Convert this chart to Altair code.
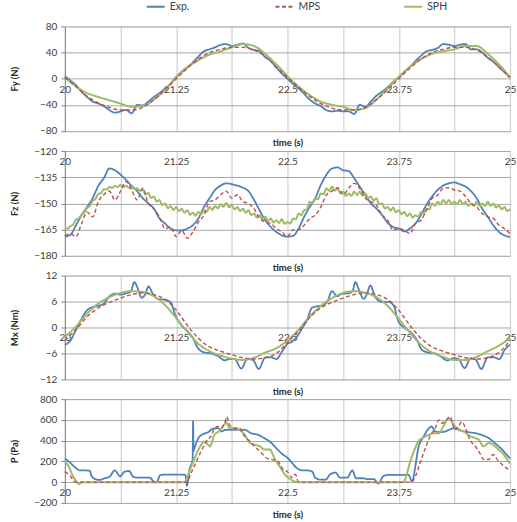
import altair as alt
import pandas as pd

FONT = "Lato"
SERIES = ["Exp.", "MPS", "SPH"]
COLORS = ["#4F81BD", "#C0504D", "#9FBB68"]

T_FINE = [20.0, 20.0625, 20.125, 20.1875, 20.25, 20.3125, 20.375, 20.4375, 20.5, 20.5625,
          20.625, 20.6875, 20.75, 20.8125, 20.875, 20.9375, 21.0, 21.0625, 21.125, 21.1875,
          21.25, 21.3125, 21.375, 21.4375, 21.5, 21.5625, 21.625, 21.6875, 21.75, 21.8125,
          21.875, 21.9375, 22.0, 22.0625, 22.125, 22.1875, 22.25, 22.3125, 22.375, 22.4375,
          22.5, 22.5625, 22.625, 22.6875, 22.75, 22.8125, 22.875, 22.9375, 23.0, 23.0625,
          23.125, 23.1875, 23.25, 23.3125, 23.375, 23.4375, 23.5, 23.5625, 23.625, 23.6875,
          23.75, 23.8125, 23.875, 23.9375, 24.0, 24.0625, 24.125, 24.1875, 24.25, 24.3125,
          24.375, 24.4375, 24.5, 24.5625, 24.625, 24.6875, 24.75, 24.8125, 24.875, 24.9375, 25.0]
T_COARSE = [20.0, 20.125, 20.25, 20.375, 20.5, 20.625, 20.75, 20.875, 21.0, 21.125,
            21.25, 21.375, 21.5, 21.625, 21.75, 21.875, 22.0, 22.125, 22.25, 22.375,
            22.5, 22.625, 22.75, 22.875, 23.0, 23.125, 23.25, 23.375, 23.5, 23.625,
            23.75, 23.875, 24.0, 24.125, 24.25, 24.375, 24.5, 24.625, 24.75, 24.875, 25.0]
# half-step sampling times (every 1/32 s) for the jittery SPH force record
T_HALF = sorted(T_FINE + [(a + b) / 2 for a, b in zip(T_FINE, T_FINE[1:])])

# ---- Fy (N)
FY_EXP = [4, -3, -10, -20, -28, -35, -38, -42, -48, -52, -50, -48, -53, -40, -41, -35, -28, -22, -15, -8,
          2, 10, 17, 25, 34, 42, 45, 48, 52, 53, 50, 52, 54, 47, 44, 42, 33, 27, 17, 8,
          0, -8, -15, -23, -32, -38, -42, -48, -50, -49, -50, -50, -54, -40, -43, -35, -26, -20, -13, -5,
          2, 10, 18, 27, 35, 42, 44, 47, 53, 52, 50, 52, 53, 45, 45, 40, 32, 26, 18, 10, 2]
FY_MPS = [2, -12, -27, -37, -44, -48, -48, -44, -32, -17, 0, 16, 30, 40, 45, 48, 48, 44, 34, 18,
          2, -13, -27, -38, -45, -48, -48, -44, -32, -17, 0, 16, 30, 40, 45, 48, 48, 44, 33, 18, 2]
FY_SPH = [2, -12, -22, -28, -33, -38, -43, -42, -32, -17, 3, 18, 28, 37, 42, 48, 53, 50, 38, 22,
          4, -12, -25, -35, -40, -43, -48, -45, -32, -15, 3, 18, 30, 38, 42, 45, 50, 50, 38, 22, 2]

# ---- Fz (N)
FZ_EXP = [-169, -168, -162.5, -156.7, -152, -147, -140, -135.6, -130, -131, -133.5, -136.5, -140, -143,
          -147, -150, -153, -158.6, -161.5, -164.4, -165.4, -165.4, -164.4, -162.5, -158.6, -152, -147,
          -142.3, -139.8, -138.5, -139, -139.8, -141, -143, -148, -154, -159.6, -163.5, -166.3, -168.3,
          -169, -168.6, -164.4, -157.7, -152, -147, -139.4, -133.6, -130, -129.4, -131, -131.5, -135.6,
          -140.4, -145.2, -150, -153, -156.7, -161, -163.5, -164.4, -166, -164.4, -161.5, -156.7, -150.7,
          -146, -142.3, -139.8, -138.5, -138, -139, -140.4, -143, -147, -153, -157.7, -162.5, -166.3,
          -168.3, -169.2]
FZ_MPS = [-168.6, -167.3, -169, -161.5, -155, -157.7, -149, -145, -143, -148, -143, -137.5, -142.3, -148,
          -141.3, -150, -153, -157.7, -164.4, -163.5, -169, -165.4, -170, -166.3, -160.6, -156.7, -149,
          -148, -145, -143, -147, -145, -149, -150, -153, -158.6, -160.6, -161.5, -164.4, -166.3,
          -169, -165, -165, -162.5, -158.6, -156.7, -152, -145.2, -143, -141, -145, -141.3, -138.5,
          -141.3, -147, -149, -151, -156.7, -159.6, -165.4, -164.4, -165.4, -167.3, -161.5, -159.6, -153.8,
          -147, -145.2, -141.3, -141, -142.3, -143, -146, -150, -152, -155.8, -157.7, -158.6, -162.5,
          -164.4, -167.3]
FZ_SPH = [-164.0, -164.4, -163.1, -162.0, -159.2, -158.6, -156.3, -155.2, -152.6, -151.4, -148.6, -147.4,
          -144.6, -144.1, -141.9, -142.1, -140.6, -141.1, -140.0, -140.5, -139.4, -140.5, -140.0, -141.1,
          -140.6, -141.8, -141.3, -142.8,
          -142.1, -144.9, -144.1, -146.9, -146.1, -148.9, -148.1, -150.9, -150.1, -152.7, -151.6, -153.7,
          -152.1, -154.4, -153.1, -155.3, -153.9, -156.5, -155.4, -157.0, -154.9, -156.2, -153.9, -154.8,
          -152.1, -153.7, -151.6, -152.8, -150.4, -151.9, -149.7, -152.2, -151.1, -153.4, -152.1, -154.4,
          -153.1, -155.3, -153.9, -156.7, -155.8, -158.1, -156.8, -159.1, -157.7, -160.0, -158.7, -161.0,
          -159.7, -161.2, -159.1, -161.7, -160.6, -161.5,
          -158.7, -159.1, -155.8, -156.7, -153.9, -153.3, -149.1, -149.9, -147.1, -147.5, -144.3, -144.7,
          -141.4, -142.7, -140.4, -142.7, -141.4, -144.2, -143.3, -145.6, -144.3, -145.6, -143.3, -145.1,
          -143.3, -145.6, -144.3, -147.0, -146.1, -148.4, -147.1, -150.4, -150.1, -152.9, -152.1, -154.1,
          -152.4, -155.0, -153.9, -156.2, -154.9, -157.2, -155.8, -158.1, -156.8, -157.7, -154.9, -155.8,
          -153.1, -153.4, -150.1, -151.4, -149.1, -150.4, -148.1, -149.9, -148.1, -150.4, -149.1, -150.4,
          -148.1, -150.4, -149.1, -151.4, -150.1, -151.4, -149.1, -151.4, -150.1, -151.4, -149.1, -151.4,
          -150.1, -152.4, -151.1, -153.4, -152.1, -154.4, -153.1]

# ---- Mx (Nm)
MX_EXP_T = [20.0, 20.064, 20.123, 20.187, 20.25, 20.31, 20.374, 20.438, 20.5, 20.56, 20.625, 20.688,
            20.74, 20.78, 20.823, 20.86, 20.898, 20.94, 20.987, 21.047, 21.122, 21.19, 21.234, 21.309,
            21.384, 21.44, 21.496, 21.571, 21.645, 21.72, 21.795, 21.851, 21.907, 21.982, 22.049, 22.113,
            22.177, 22.251, 22.319, 22.375, 22.438, 22.5, 22.552, 22.608, 22.665, 22.72, 22.777, 22.833,
            22.889, 22.945, 23.001, 23.057, 23.113, 23.188, 23.233, 23.263, 23.3, 23.356, 23.394, 23.431,
            23.487, 23.562, 23.637, 23.693, 23.749, 23.824, 23.899, 23.955, 24.011, 24.086, 24.16, 24.235,
            24.291, 24.366, 24.422, 24.49, 24.557, 24.617, 24.677, 24.751, 24.819, 24.879, 24.939, 25.0]
MX_EXP = [-4, -3, -0.6, 2, 4, 4.7, 5, 5.5, 7.2, 7.8, 7.6, 7.9,
          8.3, 10.5, 8.8, 6.9, 7.5, 9.5, 7.8, 6.6, 6.4, 5.8, 3.2, 0.5,
          -1, -2.5, -4.8, -5.8, -6, -6.6, -7.6, -7.3, -7.3, -9.5, -7.3, -7.5,
          -9.6, -6.9, -6.9, -7.3, -5.6, -3.8, -3.3, -2.1, -0.2, 1.7, 4.6, 4.9,
          5.1, 5.9, 8.4, 7.2, 7.8, 7.9, 8.5, 10.5, 8.9, 6.6, 7.8, 9.7,
          7, 5.9, 5.9, 5.1, 1.3, -0.2, -1.4, -2.9, -5.2, -5.8, -6, -6.9,
          -7.6, -7.1, -7.3, -9.4, -7.1, -7.5, -9.6, -6.9, -6.9, -7.3, -5.2, -4]
MX_MPS = [-3, -0.5, 2.5, 4.5, 5.8, 6.8, 7.6, 8.0, 7.6, 6.5, 4.0, 0.5, -2.5, -4.5, -5.5, -6.3, -7.0, -7.3,
          -7.0, -6.0, -3.5, -0.8, 2.3, 4.5, 5.8, 6.8, 7.6, 8.0, 7.6, 6.5, 4.0, 0.5, -2.5, -4.5, -5.5,
          -6.3, -7.0, -7.3, -7.0, -5.8, -3.0]
MX_SPH = [-2.2, 0.2, 3.2, 5.5, 7.0, 8.0, 8.4, 8.2, 7.2, 5.2, 2.2, -1.0, -3.8, -5.5, -6.5, -7.2, -7.5, -7.0,
          -5.8, -4.8, -3.0, -0.5, 2.5, 5.0, 6.8, 8.0, 8.4, 8.0, 7.0, 5.0, 2.0, -1.2, -4.0, -5.8, -6.8,
          -7.5, -7.5, -6.8, -5.5, -4.2, -2.5]

# ---- P (Pa)
P_EXP_T = [20.0, 20.06, 20.11, 20.17, 20.22, 20.28, 20.3, 20.34, 20.39, 20.45, 20.5, 20.56, 20.62, 20.67,
           20.72, 20.77, 20.82, 20.9, 20.95, 21.0, 21.03, 21.07, 21.12, 21.2, 21.27, 21.35, 21.36, 21.37,
           21.4, 21.435, 21.44, 21.445, 21.46, 21.5, 21.55, 21.61, 21.66, 21.72, 21.76, 21.8, 21.87,
           21.95, 22.02, 22.09, 22.17, 22.24, 22.32, 22.39, 22.45,
           22.5, 22.55, 22.61, 22.66, 22.72, 22.78, 22.81, 22.87, 22.93, 22.98, 23.04, 23.09, 23.17,
           23.23, 23.27, 23.34, 23.41, 23.47, 23.52, 23.58, 23.64, 23.71, 23.79, 23.86, 23.9, 23.94,
           23.97, 24.03, 24.09, 24.12, 24.16, 24.22, 24.27, 24.33, 24.38, 24.46, 24.53, 24.61, 24.68,
           24.76, 24.83, 24.91, 24.96, 25.0]
P_EXP = [228, 187, 146, 114, 114, 108, 60, 29, 22, 38, 51, 114, 57, 101,
         108, 51, 44, 44, 44, 6, -3, 67, 73, 73, 73, 73, 40, -35,
         124, 220, 590, 300, 340, 425, 463, 482, 514, 520, 488, 504, 504,
         504, 504, 472, 456, 425, 377, 314, 266,
         235, 187, 133, 114, 114, 101, 44, 25, 25, 76, 92, 44, 44,
         114, 38, 38, 29, 29, -13, 60, 70, 70, 70, 70, 6, 171,
         330, 440, 520, 536, 488, 482, 488, 510, 520, 495, 482, 472, 456,
         425, 377, 314, 266, 228]
P_MPS_T = [20.0, 20.06, 20.11, 20.15, 21.365, 21.42, 21.48, 21.53, 21.59, 21.65, 21.68, 21.72, 21.76,
           21.8, 21.82, 21.85, 21.91, 21.96, 22.02, 22.08, 22.13, 22.17, 22.21, 22.26, 22.32, 22.39,
           22.45, 22.5, 22.55, 22.59, 22.62, 22.66, 23.88, 23.9, 23.94, 23.99, 24.05, 24.1, 24.16, 24.2,
           24.24, 24.27, 24.33, 24.35, 24.38, 24.42, 24.46, 24.5, 24.55, 24.61, 24.67, 24.7, 24.76,
           24.81, 24.87, 24.93, 24.98, 25.0]
P_MPS = [101, 60, 6, 0, 0, 92, 203, 298, 393, 456, 520, 536, 526,
         583, 631, 552, 520, 520, 440, 393, 346, 314, 282, 235, 219, 203,
         124, 101, 44, 76, 6, 0, 0, 6, 60, 187, 330, 440, 520, 600,
         568, 583, 631, 583, 504, 536, 583, 520, 409, 346, 266, 219, 219,
         266, 203, 155, 124, 108]
P_SPH_T = [20.0, 20.04, 20.09, 20.13, 20.16, 20.19, 21.33, 21.35, 21.4, 21.46, 21.51, 21.57, 21.63,
           21.68, 21.74, 21.8, 21.81, 21.85, 21.91, 21.96, 22.02, 22.08, 22.13, 22.19, 22.24, 22.3,
           22.36, 22.41, 22.47, 22.5, 22.55, 22.61, 23.79, 23.81, 23.84, 23.88, 23.92, 23.97, 24.03,
           24.09, 24.14, 24.2, 24.25, 24.31, 24.37, 24.42, 24.48, 24.53, 24.59, 24.65, 24.7, 24.76,
           24.81, 24.87, 24.93, 24.98, 25.0]
P_SPH = [203, 155, 60, 6, -19, 0, 0, 6, 108, 235, 330, 393, 346,
         456, 495, 568, 580, 520, 520, 504, 456, 377, 361, 346, 314, 314,
         219, 155, 76, 50, 19, 0, 0, 6, 76, 203, 298, 393, 431,
         456, 472, 472, 536, 615, 552, 504, 488, 456, 431, 409, 346, 377,
         361, 314, 266, 203, 178]

X_GRID = [20, 20.625, 21.25, 21.875, 22.5, 23.125, 23.75, 24.375, 25]

W = 446

LEGEND = alt.Legend(orient="none", legendX=81, legendY=-30, direction="horizontal", columns=3,
                    columnPadding=80, gridAlign="all", symbolType="stroke", symbolSize=324,
                    symbolStrokeWidth=2, labelFont=FONT, labelFontSize=10.5, labelColor="#404040",
                    labelOffset=4, title=None)


def panel(series, ytitle, dom, yticks, H, cross):
    rows = []
    for name, ts, vs in series:
        for t, v in zip(ts, vs):
            rows.append({"t": t, "v": v, "s": name})
    df = pd.DataFrame(rows)
    frac = (dom[1] - cross) / (dom[1] - dom[0])
    off = -(H - H * frac)
    xscale = alt.Scale(domain=[20, 25], nice=False, zero=False)
    yscale = alt.Scale(domain=dom, nice=False, zero=False)
    xaxis = alt.Axis(values=X_GRID, labelExpr="(datum.value - 20) % 1.25 == 0 ? '' + datum.value : ''",
                     grid=True, gridColor="#d0d0d0", gridWidth=1.2, domain=False, ticks=False,
                     offset=off, labelPadding=5.5, labelFlush=False, labelOverlap=False,
                     labelFont=FONT, labelFontSize=10, labelColor="#404040",
                     title="time (s)", titleFont=FONT, titleFontSize=9.5, titleFontWeight="bold",
                     titleColor="#262626", titleX=W / 2, titleY=-off + 12, titleBaseline="middle",
                     titleAlign="center")
    yaxis = alt.Axis(values=yticks, grid=True, gridColor="#a6a6a6", gridWidth=1, domain=True,
                     domainColor="#868686", ticks=True, tickSize=4, tickColor="#868686",
                     labelPadding=4, labelFont=FONT, labelFontSize=10, labelColor="#404040",
                     title=ytitle, titleFont=FONT, titleFontSize=9.5, titleFontWeight="bold",
                     titleColor="#262626", titleX=-50, titleY=H / 2, titleAngle=270,
                     titleAlign="center", titleBaseline="middle")
    color = alt.Color("s:N", scale=alt.Scale(domain=SERIES, range=COLORS), legend=LEGEND, title=None)
    dash = alt.StrokeDash("s:N", scale=alt.Scale(domain=SERIES, range=[[1, 0], [4, 2.5], [1, 0]]),
                          legend=LEGEND, title=None)
    base = alt.Chart(df)
    layers = []
    for name, sw in [("Exp.", 1.8), ("SPH", 2.0), ("MPS", 1.4)]:
        layers.append(
            base.transform_filter(alt.datum.s == name)
            .mark_line(strokeWidth=sw, interpolate="monotone")
            .encode(x=alt.X("t:Q", scale=xscale, axis=xaxis),
                    y=alt.Y("v:Q", scale=yscale, axis=yaxis),
                    color=color, strokeDash=dash)
        )
    return alt.layer(*layers).properties(width=W, height=H)


p1 = panel([("Exp.", T_FINE, FY_EXP), ("MPS", T_COARSE, FY_MPS), ("SPH", T_COARSE, FY_SPH)],
           "Fy (N)", [-80, 80], [-80, -40, 0, 40, 80], 104.7, 0)
p2 = panel([("Exp.", T_FINE, FZ_EXP), ("MPS", T_FINE, FZ_MPS), ("SPH", T_HALF, FZ_SPH)],
           "Fz (N)", [-180, -120], [-180, -165, -150, -135, -120], 105, -120)
p3 = panel([("Exp.", MX_EXP_T, MX_EXP), ("MPS", T_COARSE, MX_MPS), ("SPH", T_COARSE, MX_SPH)],
           "Mx (Nm)", [-12, 12], [-12, -6, 0, 6, 12], 104, 0)
p4 = panel([("Exp.", P_EXP_T, P_EXP), ("MPS", P_MPS_T, P_MPS), ("SPH", P_SPH_T, P_SPH)],
           "P (Pa)", [-200, 800], [-200, 0, 200, 400, 600, 800], 104, 0)

chart = alt.vconcat(p1, p2, p3, p4, spacing=19.8, bounds="flush").properties(
    padding={"left": 9, "top": -4, "right": 0, "bottom": 0}
).configure_view(stroke=None).configure(font=FONT, background="white")

chart.save("out.html", embed_options={"renderer": "svg", "actions": False})
